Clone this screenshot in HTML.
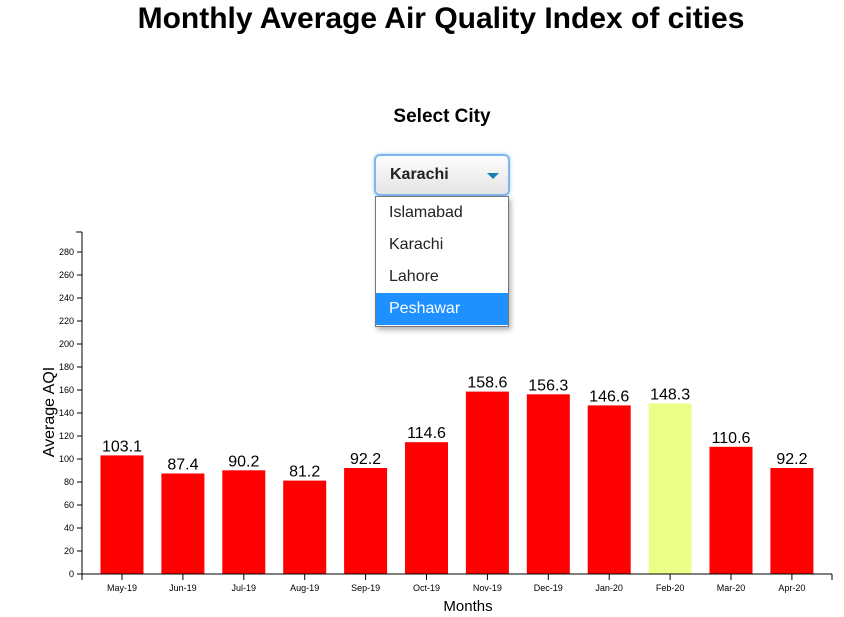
<!DOCTYPE html>
<html><head><style>
body{margin:0;width:844px;height:617px;background:#fff;font-family:"Liberation Sans",Arial,sans-serif;position:relative;overflow:hidden}
.t{position:absolute;left:0;width:882px;text-align:center;top:2px;font-size:30px;font-weight:bold;color:#000}
.sc{position:absolute;left:0;width:884px;text-align:center;top:106px;font-size:19px;font-weight:bold}
.sel{position:absolute;left:374px;top:154px;width:132px;height:38px;border:2px solid #7fb6f0;border-radius:6px;background:linear-gradient(#fdfdfd,#e4e4e4);box-shadow:0 0 3px #9cc8f5}
.sel span{position:absolute;left:14px;top:10px;font-size:16px;font-weight:bold;color:#222}
.sel i{position:absolute;left:111px;top:17px;border-left:6px solid transparent;border-right:6px solid transparent;border-top:6px solid #1a80b0}
.dd{position:absolute;left:375px;top:196px;width:132px;height:129px;border:1px solid #777;background:#fff;box-shadow:2px 3px 5px rgba(0,0,0,.3)}
.dd div{height:32px;line-height:32px;padding-left:13px;font-size:16px;color:#222}
.dd .h{background:#1e90ff;color:#fff}
</style></head><body>
<div class="t">Monthly Average Air Quality Index of cities</div>
<svg width="844" height="617" style="position:absolute;left:0;top:0" font-family="Liberation Sans, Arial, sans-serif">
<g stroke="#000">
<line x1="77" x2="82" y1="574" y2="574"/><line x1="77" x2="82" y1="551" y2="551"/><line x1="77" x2="82" y1="528" y2="528"/><line x1="77" x2="82" y1="505" y2="505"/><line x1="77" x2="82" y1="482" y2="482"/><line x1="77" x2="82" y1="459" y2="459"/><line x1="77" x2="82" y1="436" y2="436"/><line x1="77" x2="82" y1="413" y2="413"/><line x1="77" x2="82" y1="390" y2="390"/><line x1="77" x2="82" y1="367" y2="367"/><line x1="77" x2="82" y1="344" y2="344"/><line x1="77" x2="82" y1="321" y2="321"/><line x1="77" x2="82" y1="298" y2="298"/><line x1="77" x2="82" y1="275" y2="275"/><line x1="77" x2="82" y1="252" y2="252"/>
</g>
<g font-size="9" text-anchor="end">
<text x="74" y="577">0</text><text x="74" y="554">20</text><text x="74" y="531">40</text><text x="74" y="508">60</text><text x="74" y="485">80</text><text x="74" y="462">100</text><text x="74" y="439">120</text><text x="74" y="416">140</text><text x="74" y="393">160</text><text x="74" y="370">180</text><text x="74" y="347">200</text><text x="74" y="324">220</text><text x="74" y="301">240</text><text x="74" y="278">260</text><text x="74" y="255">280</text>
</g>
<g fill="#ff0000">
<rect x="100.5" y="455.4" width="43" height="118.6"/>
<rect x="161.4" y="473.5" width="43" height="100.5"/>
<rect x="222.3" y="470.3" width="43" height="103.7"/>
<rect x="283.2" y="480.6" width="43" height="93.4"/>
<rect x="344.1" y="468" width="43" height="106"/>
<rect x="405" y="442.2" width="43" height="131.8"/>
<rect x="465.9" y="391.6" width="43" height="182.4"/>
<rect x="526.8" y="394.3" width="43" height="179.7"/>
<rect x="587.7" y="405.4" width="43" height="168.6"/>
<rect x="648.6" y="403.5" width="43" height="170.5" fill="#eaff85"/>
<rect x="709.5" y="446.8" width="43" height="127.2"/>
<rect x="770.4" y="468" width="43" height="106"/>
</g>
<g font-size="16" text-anchor="middle">
<text x="122" y="451.4">103.1</text>
<text x="182.9" y="469.5">87.4</text>
<text x="243.8" y="466.3">90.2</text>
<text x="304.7" y="476.6">81.2</text>
<text x="365.6" y="464">92.2</text>
<text x="426.5" y="438.2">114.6</text>
<text x="487.4" y="387.6">158.6</text>
<text x="548.3" y="390.3">156.3</text>
<text x="609.2" y="401.4">146.6</text>
<text x="670.1" y="399.5">148.3</text>
<text x="731" y="442.8">110.6</text>
<text x="791.9" y="464">92.2</text>
</g>
<g stroke="#000">
<line x1="122" x2="122" y1="574" y2="580"/><line x1="182.9" x2="182.9" y1="574" y2="580"/><line x1="243.8" x2="243.8" y1="574" y2="580"/><line x1="304.7" x2="304.7" y1="574" y2="580"/><line x1="365.6" x2="365.6" y1="574" y2="580"/><line x1="426.5" x2="426.5" y1="574" y2="580"/><line x1="487.4" x2="487.4" y1="574" y2="580"/><line x1="548.3" x2="548.3" y1="574" y2="580"/><line x1="609.2" x2="609.2" y1="574" y2="580"/><line x1="670.1" x2="670.1" y1="574" y2="580"/><line x1="731" x2="731" y1="574" y2="580"/><line x1="791.9" x2="791.9" y1="574" y2="580"/>
</g>
<g font-size="9" text-anchor="middle">
<text x="122" y="591">May-19</text><text x="182.9" y="591">Jun-19</text><text x="243.8" y="591">Jul-19</text><text x="304.7" y="591">Aug-19</text><text x="365.6" y="591">Sep-19</text><text x="426.5" y="591">Oct-19</text><text x="487.4" y="591">Nov-19</text><text x="548.3" y="591">Dec-19</text><text x="609.2" y="591">Jan-20</text><text x="670.1" y="591">Feb-20</text><text x="731" y="591">Mar-20</text><text x="791.9" y="591">Apr-20</text>
</g>
<line x1="82" y1="232" x2="82" y2="574" stroke="#000"/>
<line x1="76" y1="232" x2="82" y2="232" stroke="#000"/>
<line x1="82" y1="574" x2="832" y2="574" stroke="#000"/>
<line x1="82" y1="574" x2="82" y2="580" stroke="#000"/>
<line x1="832" y1="574" x2="832" y2="580" stroke="#000"/>
<text x="468" y="611" font-size="15" text-anchor="middle">Months</text>
<text transform="translate(54,412) rotate(-90)" font-size="16" text-anchor="middle">Average AQI</text>
</svg>
<div class="sc">Select City</div>
<div class="sel"><span>Karachi</span><i></i></div>
<div class="dd"><div>Islamabad</div><div>Karachi</div><div>Lahore</div><div class="h">Peshawar</div></div>
</body></html>
